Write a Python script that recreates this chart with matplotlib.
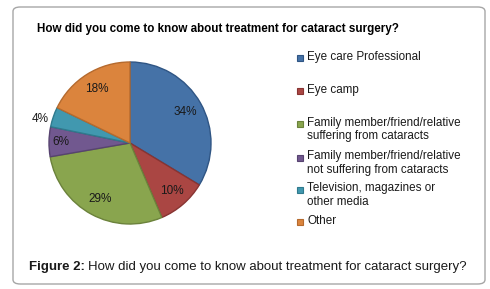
import matplotlib.pyplot as plt
from matplotlib.patches import FancyBboxPatch, Rectangle
import numpy as np

plt.rcParams['font.family'] = ['Liberation Sans', 'DejaVu Sans']

labels = ['Eye care Professional', 'Eye camp',
          'Family member/friend/relative\nsuffering from cataracts',
          'Family member/friend/relative\nnot suffering from cataracts',
          'Television, magazines or\nother media', 'Other']
values = [34, 10, 29, 6, 4, 18]
colors = ['#4572A7', '#AA4643', '#89A54E', '#71588F', '#4198AF', '#DB843D']
edges = ['#2F5584', '#883432', '#6B823B', '#574370', '#2F7A8D', '#B56A2E']

W, H = 490, 289
fig = plt.figure(figsize=(W / 100, H / 100), dpi=100)

# outer frame
frame = FancyBboxPatch((13 / W, 5 / H), 472 / W, 277 / H,
                       boxstyle='round,pad=0,rounding_size=0.015',
                       transform=fig.transFigure, fc='none',
                       ec='#A6A6A6', lw=1.0, zorder=-1)
fig.patches.append(frame)

fig.text(37 / W, 1 - 29 / H, 'How did you come to know about treatment for cataract surgery?',
         fontsize=8.4, fontweight='bold', va='center', ha='left')

# pie
total = sum(values)
cx, cy, r = 130, 143, 81
ax = fig.add_axes([(cx - r) / W, (H - cy - r) / H, 2 * r / W, 2 * r / H])
wedges, texts, autotexts = ax.pie(values, colors=colors, startangle=90, counterclock=False,
                                  autopct=lambda p: '%d%%' % round(p * total / 100),
                                  pctdistance=0.78, radius=1,
                                  textprops={'fontsize': 8.5, 'color': '#1a1a1a'},
                                  wedgeprops={'linewidth': 1.0})
for w, e in zip(wedges, edges):
    w.set_edgecolor(e)


def place(i, dist, dang=0):
    w = wedges[i]
    ang = np.deg2rad((w.theta1 + w.theta2) / 2 + dang)
    autotexts[i].set_position((dist * np.cos(ang), dist * np.sin(ang)))


place(3, 0.85)
place(4, 1.15, 4)   # small slice label sits outside
ax.set_xlim(-1, 1)
ax.set_ylim(-1, 1)
ax.set_aspect('auto')
ax.axis('off')

# legend
rows = [57, 90, 129.5, 163, 195, 221]
for lab, c, e, y in zip(labels, colors, edges, rows):
    nl = lab.count('\n')
    top = y - 6.5 * nl
    fig.patches.append(Rectangle((297 / W, (H - top - 4) / H), 6 / W, 6 / H,
                                 transform=fig.transFigure, fc=c, ec=e, lw=0.8))
    fig.text(307 / W, 1 - y / H, lab, fontsize=8.4, va='center', ha='left',
             linespacing=1.15, color='#1a1a1a')

# caption: bold prefix followed by normal text
t1 = fig.text(29 / W, 1 - 267 / H, 'Figure 2:', fontsize=9.5, fontweight='bold',
              va='center', ha='left', color='#1a1a1a')
renderer = fig.canvas.get_renderer()
bb = t1.get_window_extent(renderer)
fig.text((bb.x1 + 3) / W, 1 - 267 / H,
         'How did you come to know about treatment for cataract surgery?',
         fontsize=9.5, va='center', ha='left', color='#1a1a1a')

fig.savefig('out.png', dpi=100)
